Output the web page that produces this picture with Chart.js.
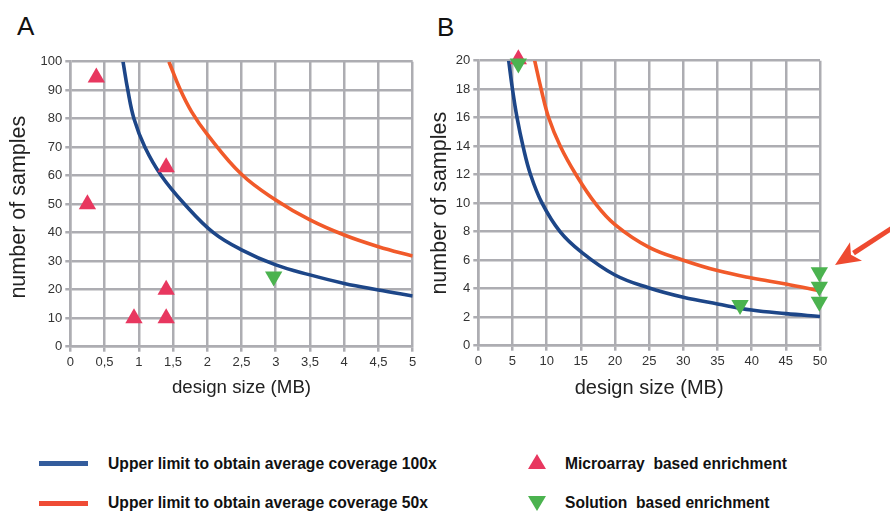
<!DOCTYPE html>
<html><head><meta charset="utf-8">
<script src="https://cdn.jsdelivr.net/npm/chart.js@4"></script>
<style>
html,body{margin:0;padding:0;background:#fff;}
body{width:890px;height:511px;position:relative;overflow:hidden;font-family:"Liberation Sans",Arial,sans-serif;}
canvas{position:absolute;top:0;}
#ca{left:0;}
#cb{left:420px;}
.panel{position:absolute;font-size:26px;line-height:26px;color:#111;}
.lg{position:absolute;font-weight:bold;font-size:15.7px;line-height:18px;color:#111;white-space:pre;}
.ln{position:absolute;height:5px;width:49px;}
.tri{position:absolute;width:18px;height:15px;}
</style></head>
<body>
<div class="panel" style="left:17px;top:13px;">A</div>
<div class="panel" style="left:437px;top:14px;">B</div>
<canvas id="ca" width="440" height="410"></canvas>
<canvas id="cb" width="470" height="410"></canvas>

<div class="ln" style="left:39px;top:461px;background:#335c9c;"></div>
<div class="lg" style="left:108px;top:455px;">Upper limit to obtain average coverage 100x</div>
<div class="ln" style="left:39px;top:501px;background:#ef4b35;"></div>
<div class="lg" style="left:108px;top:494px;">Upper limit to obtain average coverage 50x</div>
<div class="tri" style="left:528px;top:454px;background:#e8375f;clip-path:polygon(50% 0,100% 100%,0 100%);"></div>
<div class="lg" style="left:565px;top:455px;font-size:15.6px;">Microarray  based enrichment</div>
<div class="tri" style="left:528px;top:496px;background:#4bb34f;clip-path:polygon(0 0,100% 0,50% 100%);"></div>
<div class="lg" style="left:565px;top:494px;font-size:15.6px;">Solution  based enrichment</div>

<script>
// ---------- Panel A data ----------
const xTicksA = ['0','0,5','1','1,5','2','2,5','3','3,5','4','4,5','5'];
const yTicksA = ['0','10','20','30','40','50','60','70','80','90','100'];
const blueAx = [0.77, 0.84, 0.93, 1.09, 1.33, 1.67, 2.09, 2.5, 3, 3.5, 4, 4.5, 5];
const blueAy = [100, 90, 80, 70, 60, 50, 40, 34, 28.7, 25.2, 22.2, 19.9, 17.8];
const redAx = [1.44, 1.6, 1.77, 2, 2.5, 3, 3.5, 4, 4.5, 5];
const redAy = [100, 90.5, 82.5, 74.5, 60.5, 51.5, 44.5, 39.2, 35.1, 31.8];
const microAx = [0.38, 0.25, 1.4, 1.4, 0.93, 1.4];
const microAy = [94.5, 50, 63, 20, 10, 10];
const solAx = [2.97];
const solAy = [24.6];

// ---------- Panel B data ----------
const xTicksB = ['0','5','10','15','20','25','30','35','40','45','50'];
const yTicksB = ['0','2','4','6','8','10','12','14','16','18','20'];
const blueBx = [4.45, 5.0, 5.67, 6.54, 7.65, 9.33, 11.96, 15, 20, 25, 30, 35, 40, 45, 50];
const blueBy = [20, 18, 16, 14, 12, 10, 8, 6.6, 4.96, 4.05, 3.4, 2.93, 2.5, 2.25, 2.05];
const redBx = [8.25, 9.2, 10.3, 12.0, 14.3, 17.1, 20, 25, 30, 35, 40, 45, 50];
const redBy = [20, 18, 16, 14, 12, 10, 8.5, 6.9, 6.0, 5.27, 4.75, 4.33, 3.85];
const microBx = [5.86];
const microBy = [20.1];
const solBx = [5.86, 38.3, 49.9, 49.9, 49.9];
const solBy = [19.8, 2.86, 5.15, 4.14, 3.09];
const arrowTail = [61, 8.4];
const arrowTip = [52.2, 5.66];

const BLUE = '#1d4688', RED = '#f15a2a', PINK = '#e8375f', GREEN = '#4bb34f', GRID = '#adadb2';
const pts = (xs, ys) => xs.map((x, i) => ({x, y: ys[i]}));

function lineDs(xs, ys, color) {
  return {data: pts(xs, ys), showLine: true, borderColor: color, borderWidth: 3.6,
    pointRadius: 0, pointHoverRadius: 0, tension: 0.4, fill: false, order: 3};
}
function markDs(xs, ys, color, rot, order) {
  return {data: pts(xs, ys), showLine: false, pointStyle: 'triangle', rotation: rot,
    pointRadius: 10, pointHoverRadius: 10, backgroundColor: color, borderColor: color,
    borderWidth: 0, clip: false, order};
}

function makeChart(id, cfg) {
  const {xLabels, yLabels, xmax, xstep, ymax, ystep, yW, xH, pad, xTitleSize, xTitlePad, yTitlePad, yTitle, datasets, plugins} = cfg;
  return new Chart(document.getElementById(id), {
    type: 'scatter',
    data: {datasets},
    plugins: plugins || [],
    options: {
      responsive: false, animation: false, devicePixelRatio: 1,
      layout: {padding: pad},
      plugins: {legend: {display: false}, tooltip: {enabled: false}},
      scales: {
        x: {type: 'linear', min: 0, max: xmax,
          ticks: {stepSize: xstep, padding: 3, color: '#333', font: {family: 'Liberation Sans', size: 13},
            maxRotation: 0, autoSkip: false,
            callback: (v, i) => xLabels[i]},
          grid: {color: GRID, lineWidth: 2.5, tickLength: 5, tickColor: GRID},
          border: {color: GRID, width: 2.5},
          title: {display: true, text: 'design size (MB)', color: '#222',
            font: {family: 'Liberation Sans', size: xTitleSize}, padding: {top: 0, bottom: xTitlePad}},
          afterFit: s => { s.height = xH; }
        },
        y: {type: 'linear', min: 0, max: ymax,
          ticks: {stepSize: ystep, padding: 3, color: '#333', font: {family: 'Liberation Sans', size: 13},
            autoSkip: false, callback: (v, i) => yLabels[i]},
          grid: {color: GRID, lineWidth: 2.5, tickLength: 5, tickColor: GRID},
          border: {color: GRID, width: 2.5},
          title: {display: true, text: yTitle, color: '#222',
            font: {family: 'Liberation Sans', size: 21.5}, padding: {top: yTitlePad, bottom: 0}},
          afterFit: s => { s.width = yW; }
        }
      }
    }
  });
}

const arrowPlugin = {
  id: 'arrowAnno',
  afterDatasetsDraw(chart) {
    const {ctx, scales: {x, y}} = chart;
    const x0 = x.getPixelForValue(arrowTail[0]), y0 = y.getPixelForValue(arrowTail[1]);
    const x1 = x.getPixelForValue(arrowTip[0]), y1 = y.getPixelForValue(arrowTip[1]);
    const ang = Math.atan2(y1 - y0, x1 - x0);
    const hl = 25, hw = 11;
    const bx = x1 - Math.cos(ang) * hl, by = y1 - Math.sin(ang) * hl;
    ctx.save();
    ctx.strokeStyle = '#ee4a30'; ctx.fillStyle = '#ee4a30';
    ctx.lineWidth = 5;
    ctx.beginPath(); ctx.moveTo(x0, y0); ctx.lineTo(bx + Math.cos(ang) * 3, by + Math.sin(ang) * 3); ctx.stroke();
    ctx.beginPath();
    ctx.moveTo(x1, y1);
    ctx.lineTo(bx + Math.sin(ang) * hw, by - Math.cos(ang) * hw);
    ctx.lineTo(bx + Math.cos(ang) * 6, by + Math.sin(ang) * 6);
    ctx.lineTo(bx - Math.sin(ang) * hw, by + Math.cos(ang) * hw);
    ctx.closePath(); ctx.fill();
    ctx.restore();
  }
};

makeChart('ca', {
  xLabels: xTicksA, yLabels: yTicksA, xmax: 5, xstep: 0.5, ymax: 100, ystep: 10,
  yW: 70.3, xH: 55, pad: {left: 0, top: 61.7, right: 27.3, bottom: 8.3},
  xTitleSize: 18.7, xTitlePad: 2.3, yTitlePad: 6, yTitle: 'number of samples ',
  datasets: [
    markDs(solAx, solAy, GREEN, 180, 0),
    markDs(microAx, microAy, PINK, 0, 1),
    lineDs(blueAx, blueAy, BLUE),
    lineDs(redAx, redAy, RED)
  ]
});

makeChart('cb', {
  xLabels: xTicksB, yLabels: yTicksB, xmax: 50, xstep: 5, ymax: 20, ystep: 2,
  yW: 58.3, xH: 55, pad: {left: 0, top: 60.7, right: 70, bottom: 9.3},
  xTitleSize: 20, xTitlePad: 0.5, yTitlePad: 7, yTitle: 'number of samples',
  datasets: [
    markDs(solBx, solBy, GREEN, 180, 0),
    markDs(microBx, microBy, PINK, 0, 1),
    lineDs(blueBx, blueBy, BLUE),
    lineDs(redBx, redBy, RED)
  ],
  plugins: [arrowPlugin]
});
</script>
</body></html>
